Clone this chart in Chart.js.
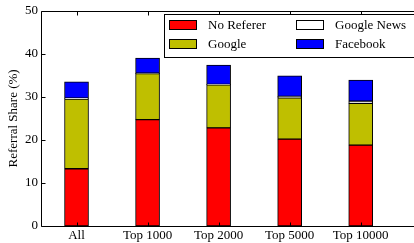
<!DOCTYPE html>
<html>
<head>
<meta charset="utf-8">
<script src="https://cdn.jsdelivr.net/npm/chart.js@4/dist/chart.umd.min.js"></script>
<style>
  html, body { margin: 0; padding: 0; background: #fff; }
  #wrap { width: 414px; height: 243px; }
</style>
</head>
<body>
<div id="wrap"><canvas id="referrals"></canvas></div>
<script>
"use strict";

var groups = ['All', 'Top 1000', 'Top 2000', 'Top 5000', 'Top 10000'];
var noReferer = [13.3, 24.7, 22.8, 20.2, 18.8];
var google = [16.2, 10.7, 10.0, 9.6, 9.7];
var googleNews = [0.2, 0.1, 0.1, 0.3, 0.5];
var facebook = [3.8, 3.5, 4.5, 4.8, 4.9];
var yTicks = [0, 10, 20, 30, 40, 50];

var serif = '"Liberation Serif", "DejaVu Serif", serif';

function points (values) {
    return values.map(function (v, i) { return { x: i, y: v }; });
}

function series (label, values, color) {
    return {
        label: label,
        data: points(values),
        backgroundColor: color,
        borderColor: '#000',
        borderWidth: 1,
        borderSkipped: false,
        barThickness: 24,
        stack: 'share'
    };
}

// matplotlib style: spines, inward ticks, legend box inside the axes
var frame = {
    id: 'frame',
    afterDraw: function (chart) {
        var c = chart.ctx;
        var a = chart.chartArea;
        var xs = chart.scales.x;
        var ys = chart.scales.y;
        var l = Math.round(a.left) + 0.5;
        var t = Math.round(a.top) + 0.5;
        var b = Math.round(a.bottom) + 0.5;
        c.save();
        c.strokeStyle = '#000';
        c.lineWidth = 1;
        c.beginPath();
        c.moveTo(a.right, t);
        c.lineTo(l, t);
        c.lineTo(l, b);
        c.lineTo(a.right, b);
        yTicks.forEach(function (v) {
            var py = Math.round(ys.getPixelForValue(v)) + 0.5;
            c.moveTo(l, py);
            c.lineTo(l + 4, py);
        });
        groups.forEach(function (g, i) {
            var px = Math.round(xs.getPixelForValue(i)) + 0.5;
            c.moveTo(px, b);
            c.lineTo(px, b - 4);
            c.moveTo(px, t);
            c.lineTo(px, t + 4);
        });
        c.stroke();

        // legend
        var bx = 164.5, by = 14.5, bw = 250, bh = 43;
        c.fillStyle = '#fff';
        c.fillRect(bx, by, bw, bh);
        c.strokeRect(bx, by, bw, bh);
        var ds = chart.data.datasets;
        var slots = [[0, 0], [0, 1], [1, 0], [1, 1]];
        var colX = [169, 296];
        var rowY = [25, 44];
        c.font = '13px ' + serif;
        c.textBaseline = 'middle';
        ds.forEach(function (d, i) {
            var sx = colX[slots[i][0]];
            var sy = rowY[slots[i][1]];
            c.fillStyle = d.backgroundColor;
            c.fillRect(sx + 0.5, sy - 4.5, 27, 9);
            c.strokeRect(sx + 0.5, sy - 4.5, 27, 9);
            c.fillStyle = '#000';
            c.fillText(d.label, sx + 39, sy + 1);
        });
        c.restore();
    }
};

var ctx = document.getElementById('referrals');

var myChart = new Chart(ctx, {
    type: 'bar',
    data: {
        datasets: [
            series('No Referer', noReferer, '#ff0000'),
            series('Google', google, '#bfbf00'),
            series('Google News', googleNews, '#ffffff'),
            series('Facebook', facebook, '#0000ff')
        ]
    },
    options: {
        responsive: true,
        maintainAspectRatio: false,
        animation: false,
        layout: { padding: { top: 8, right: 0, left: 0, bottom: 0 } },
        plugins: {
            legend: { display: false },
            tooltip: { enabled: false }
        },
        scales: {
            x: {
                type: 'linear',
                min: -0.5,
                max: 4.75,
                offset: false,
                grid: { display: false, offset: false, tickLength: 0 },
                border: { display: false },
                afterBuildTicks: function (s) {
                    s.ticks = groups.map(function (g, i) { return { value: i }; });
                },
                afterFit: function (s) { s.height = 17; },
                ticks: {
                    color: '#000',
                    padding: 2,
                    maxRotation: 0,
                    autoSkip: false,
                    font: { family: serif, size: 13 },
                    callback: function (v) { return groups[v]; }
                }
            },
            y: {
                stacked: true,
                min: 0,
                max: 50,
                grid: { display: false, tickLength: 0 },
                border: { display: false },
                afterBuildTicks: function (s) {
                    s.ticks = yTicks.map(function (v) { return { value: v }; });
                },
                afterFit: function (s) { s.width = 41; },
                title: {
                    display: true,
                    text: 'Referral Share (%)',
                    color: '#000',
                    padding: { top: 6, bottom: 0 },
                    font: { family: serif, size: 13 }
                },
                ticks: {
                    color: '#000',
                    padding: 3,
                    font: { family: serif, size: 13 }
                }
            }
        }
    },
    plugins: [frame]
});
</script>
</body>
</html>
